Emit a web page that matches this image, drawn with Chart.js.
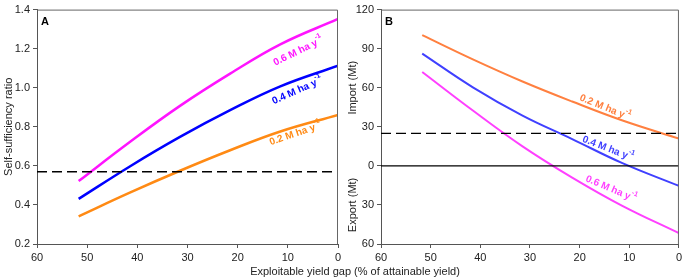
<!DOCTYPE html>
<html>
<head>
<meta charset="utf-8">
<script src="https://cdn.jsdelivr.net/npm/chart.js@4/dist/chart.umd.min.js"></script>
<style>
  body { margin: 0; background: #fff; width: 685px; height: 280px; position: relative; overflow: hidden; }
  canvas { position: absolute; top: 0; }
  #xtitle { position: absolute; top: 265px; left: 155px; width: 400px; text-align: center;
    font: 11px "Liberation Sans", Arial, sans-serif; color: #222; }
</style>
</head>
<body>
<div style="position:absolute;left:0;top:0;width:345px;height:280px"><canvas id="chartA"></canvas></div>
<div style="position:absolute;left:340px;top:0;width:345px;height:280px"><canvas id="chartB"></canvas></div>
<div id="xtitle">Exploitable yield gap (% of attainable yield)</div>
<script>
// valores
const brecha = [51.7, 41.5, 31.5, 21.5, 11.5, 0]
const ratio02 = [0.342, 0.463, 0.575, 0.680, 0.776, 0.861]
const ratio04 = [0.431, 0.597, 0.748, 0.885, 1.007, 1.113]
const ratio06 = [0.522, 0.722, 0.907, 1.072, 1.222, 1.352]
const comercio02 = [100.4, 81.8, 64.8, 49.4, 35.0, 20.9]
const comercio04 = [86.2, 60.3, 38.6, 20.6, 2.3, -15.4]
const comercio06 = [72.1, 42.5, 15.0, -9.0, -30.5, -51.7]
const umbralA = 0.57
const umbralB = 25
const etiquetas = ['0.2 M ha y', '0.4 M ha y', '0.6 M ha y']

const fuente = '"Liberation Sans", Arial, sans-serif'
Chart.defaults.font.family = fuente
Chart.defaults.color = '#222'

const serie = (ys) => brecha.map((x, i) => ({ x: x, y: ys[i] }))
const recta = (v) => [{ x: 60, y: v }, { x: 0, y: v }]

const curva = (ys, color, ancho) => ({
  data: serie(ys), borderColor: color, borderWidth: ancho,
  pointRadius: 0, tension: 0.4, fill: false
})
const horizontal = (v, dash) => ({
  data: recta(v), borderColor: '#000', borderWidth: 1.3,
  borderDash: dash, pointRadius: 0, tension: 0
})

// Caja, letra del panel y etiquetas de las curvas
const decorado = {
  id: 'decorado',
  afterDraw(chart, args, opts) {
    const ctx = chart.ctx
    const a = chart.chartArea
    const sx = chart.scales.x, sy = chart.scales.y
    ctx.save()
    ctx.strokeStyle = '#666'
    ctx.lineWidth = 1
    ctx.beginPath()
    ctx.moveTo(a.left, a.top + 0.5)
    ctx.lineTo(a.right - 0.5, a.top + 0.5)
    ctx.lineTo(a.right - 0.5, a.bottom)
    ctx.stroke()

    ctx.fillStyle = '#000'
    ctx.font = 'bold 11px ' + fuente
    ctx.textBaseline = 'middle'
    ctx.fillText(opts.letra, a.left + 4, a.top + 12)

    for (let e of opts.etiquetas) {
      const px = sx.getPixelForValue(e.x)
      const py = sy.getPixelForValue(e.y)
      ctx.save()
      ctx.translate(px, py)
      ctx.rotate(e.ang * Math.PI / 180)
      ctx.fillStyle = e.color
      ctx.font = 'bold 10px ' + fuente
      const w1 = ctx.measureText(e.texto).width
      ctx.font = 'bold 7px ' + fuente
      const w2 = ctx.measureText('-1').width
      const x0 = -(w1 + w2) / 2
      ctx.font = 'bold 10px ' + fuente
      ctx.textAlign = 'left'
      ctx.fillText(e.texto, x0, 0)
      ctx.font = 'bold 7px ' + fuente
      ctx.fillText('-1', x0 + w1, -5)
      ctx.restore()
    }

    if (opts.titulos) {
      ctx.fillStyle = '#222'
      ctx.font = '11px ' + fuente
      ctx.textAlign = 'center'
      for (let t of opts.titulos) {
        ctx.save()
        ctx.translate(13, sy.getPixelForValue(t.v))
        ctx.rotate(-Math.PI / 2)
        ctx.fillText(t.texto, 0, 0)
        ctx.restore()
      }
    }
    ctx.restore()
  }
}

const ejeX = {
  type: 'linear', min: 0, max: 60, reverse: true,
  ticks: { stepSize: 10, font: { size: 11 }, color: '#222', padding: 3 },
  grid: { drawOnChartArea: false, tickLength: 4, color: '#555' },
  border: { color: '#555' },
  afterFit: (s) => { s.height = 36 }
}

const opcionesBase = (ejeY, extra) => ({
  responsive: true, maintainAspectRatio: false, animation: false,
  layout: { padding: extra.padding },
  plugins: { legend: { display: false }, tooltip: { enabled: false }, decorado: extra.deco },
  scales: { x: ejeX, y: ejeY }
})

let chartA, chartB
window.addEventListener('load', () => {
  chartA = new Chart(document.getElementById('chartA'), {
    type: 'line',
    data: {
      datasets: [
        horizontal(umbralA, [10, 5]),
        curva(ratio02, '#ff8a14', 2.5),
        curva(ratio04, '#0000ff', 2.5),
        curva(ratio06, '#ff14ff', 2.5)
      ]
    },
    options: opcionesBase({
      type: 'linear', min: 0.2, max: 1.4,
      ticks: { stepSize: 0.2, font: { size: 11 }, color: '#222', padding: 3,
        callback: (v) => v.toFixed(1) },
      grid: { drawOnChartArea: false, tickLength: 4, color: '#555' },
      border: { color: '#555' },
      title: { display: true, text: 'Self-sufficiency ratio', font: { size: 11 }, color: '#222', padding: { top: 2, bottom: 0 } },
      afterFit: (s) => { s.width = 37 }
    }, {
      padding: { top: 5, right: 7, left: 0, bottom: 0 },
      deco: {
        letra: 'A',
        etiquetas: [
          { texto: etiquetas[2], x: 7.9, y: 1.186, ang: -26, color: '#ff14ff' },
          { texto: etiquetas[1], x: 8.1, y: 0.985, ang: -24, color: '#0000ff' },
          { texto: etiquetas[0], x: 8.5, y: 0.764, ang: -19, color: '#ff8a14' }
        ]
      }
    }),
    plugins: [decorado]
  })

  chartB = new Chart(document.getElementById('chartB'), {
    type: 'line',
    data: {
      datasets: [
        horizontal(umbralB, [10, 5]),
        horizontal(0, []),
        curva(comercio02, '#ff8040', 2),
        curva(comercio04, '#4040ff', 2),
        curva(comercio06, '#ff40ff', 2)
      ]
    },
    options: opcionesBase({
      type: 'linear', min: -60, max: 120,
      ticks: { stepSize: 30, font: { size: 11 }, color: '#222', padding: 3,
        callback: (v) => Math.abs(v) },
      grid: { drawOnChartArea: false, tickLength: 4, color: '#555' },
      border: { color: '#555' },
      afterFit: (s) => { s.width = 41 }
    }, {
      padding: { top: 5, right: 3, left: 0, bottom: 0 },
      deco: {
        letra: 'B',
        titulos: [{ texto: 'Import (Mt)', v: 60 }, { texto: 'Export (Mt)', v: -30 }],
        etiquetas: [
          { texto: etiquetas[0], x: 14.9, y: 44.8, ang: 22, color: '#ff8040' },
          { texto: etiquetas[1], x: 14.3, y: 13.2, ang: 21, color: '#4040ff' },
          { texto: etiquetas[2], x: 13.7, y: -17.7, ang: 23, color: '#ff40ff' }
        ]
      }
    }),
    plugins: [decorado]
  })
})
</script>
</body>
</html>
